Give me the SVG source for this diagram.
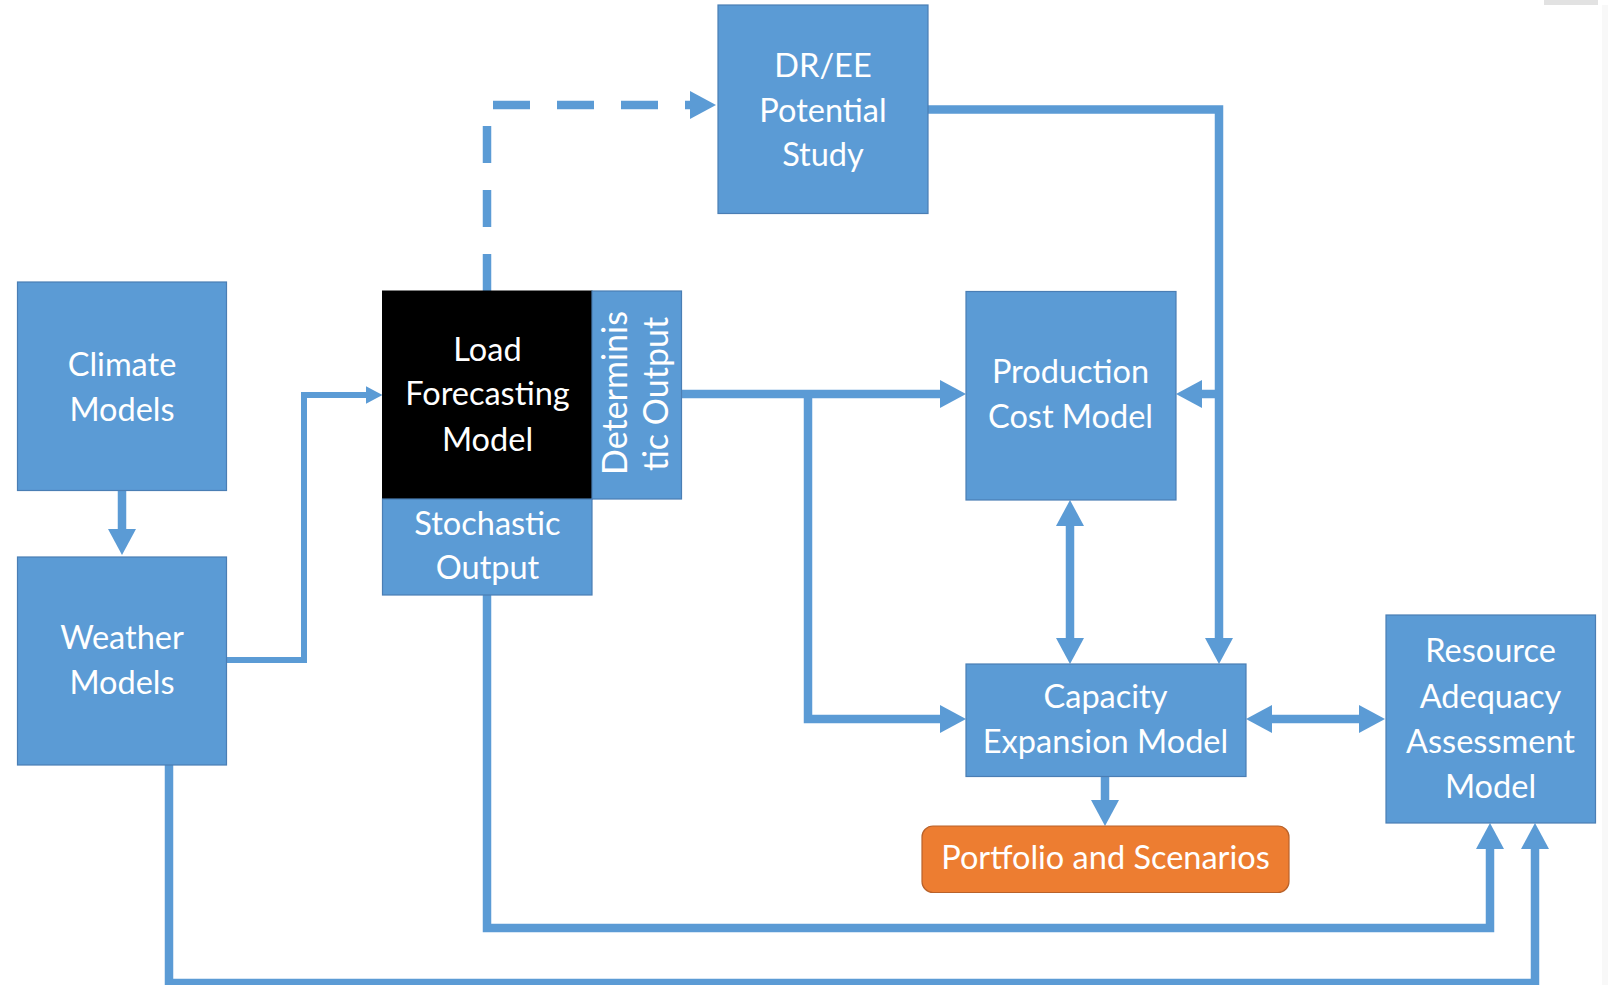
<svg xmlns="http://www.w3.org/2000/svg" width="1608" height="985" viewBox="0 0 1608 985">
  <style>
    .box { fill: #5B9BD5; stroke: #4A7EB4; stroke-width: 1.2; }
    .black { fill: #000000; stroke: #000000; stroke-width: 1; }
    .orange { fill: #ED7D31; stroke: #B9622A; stroke-width: 1.2; }
    .t { font-family: Lato, "Liberation Sans", sans-serif; font-size: 32.5px; fill: #FFFFFF; text-anchor: middle; }
    .rot { font-size: 34px; }
    .c { fill: none; stroke: #5B9BD5; stroke-width: 8.5; stroke-linejoin: miter; }
    .thin { fill: none; stroke: #5B9BD5; stroke-width: 6; }
    .dash { stroke-dasharray: 37 27; }
  </style>
  <defs>
    <marker id="ah" viewBox="0 0 26 28" refX="3" refY="14" markerWidth="26" markerHeight="28" markerUnits="userSpaceOnUse" orient="auto-start-reverse">
      <path d="M0,0 L26,14 L0,28 Z" fill="#5B9BD5"/>
    </marker>
    <marker id="ahs" viewBox="0 0 17 18" refX="2" refY="9" markerWidth="17" markerHeight="18" markerUnits="userSpaceOnUse" orient="auto">
      <path d="M0,0 L17,9 L0,18 Z" fill="#5B9BD5"/>
    </marker>
  </defs>
  <rect x="0" y="0" width="1608" height="985" fill="#FFFFFF"/>
  <rect x="1544" y="0" width="54" height="5" fill="#E2E2E2"/>
  <rect x="1602" y="5" width="6" height="980" fill="#F8F8F8"/>

  <g id="connectors">
    <path class="c" d="M122,490 V532" marker-end="url(#ah)"/>
    <path class="thin" d="M227,660 H304 V395 H367.5" marker-end="url(#ahs)"/>
    <path class="c dash" d="M487,291 V105 H693" marker-end="url(#ah)"/>
    <path class="c" d="M681,394 H943" marker-end="url(#ah)"/>
    <path class="c" d="M808,394 V719 H943" marker-end="url(#ah)"/>
    <path class="c" d="M928,109.5 H1219 V641" marker-end="url(#ah)"/>
    <path class="c" d="M1219,394 H1199" marker-end="url(#ah)"/>
    <path class="c" d="M1070,523 V641" marker-start="url(#ah)" marker-end="url(#ah)"/>
    <path class="c" d="M1269,719 H1362" marker-start="url(#ah)" marker-end="url(#ah)"/>
    <path class="c" d="M1105,777 V803" marker-end="url(#ah)"/>
    <path class="c" d="M487,595 V928 H1490 V846" marker-end="url(#ah)"/>
    <path class="c" d="M169,765 V983 H1535 V846" marker-end="url(#ah)"/>
  </g>

  <g id="climate">
    <rect class="box" x="17.5" y="282" width="209" height="208.5"/>
    <text class="t" x="122" y="376">Climate</text>
    <text class="t" x="122" y="420.5">Models</text>
  </g>
  <g id="weather">
    <rect class="box" x="17.5" y="557" width="209" height="208"/>
    <text class="t" x="122" y="649">Weather</text>
    <text class="t" x="122" y="693.5">Models</text>
  </g>
  <g id="load-forecasting">
    <rect class="black" x="382.5" y="291" width="209.5" height="208"/>
    <text class="t" x="487.5" y="361">Load</text>
    <text class="t" x="487.5" y="405">Forecasting</text>
    <text class="t" x="487.5" y="450.5">Model</text>
  </g>
  <g id="deterministic-output">
    <rect class="box" x="592" y="291" width="89.5" height="208"/>
    <text class="t rot" transform="translate(627,393) rotate(-90)">Determinis</text>
    <text class="t rot" transform="translate(668,394) rotate(-90)">tic Output</text>
  </g>
  <g id="stochastic-output">
    <rect class="box" x="382.5" y="499" width="209.5" height="96"/>
    <text class="t" x="487.5" y="535">Stochastic</text>
    <text class="t" x="487.5" y="578.5">Output</text>
  </g>
  <g id="dree">
    <rect class="box" x="718" y="5" width="210" height="208.5"/>
    <text class="t" x="823" y="76.5">DR/EE</text>
    <text class="t" x="823" y="121.5">Potential</text>
    <text class="t" x="823" y="165.5">Study</text>
  </g>
  <g id="production-cost">
    <rect class="box" x="966" y="291.5" width="210" height="208.5"/>
    <text class="t" x="1070.5" y="382.5">Production</text>
    <text class="t" x="1070.5" y="427.5">Cost Model</text>
  </g>
  <g id="capacity-expansion">
    <rect class="box" x="966" y="664" width="280" height="112.5"/>
    <text class="t" x="1105.5" y="707.5">Capacity</text>
    <text class="t" x="1105.5" y="752.5">Expansion Model</text>
  </g>
  <g id="portfolio">
    <rect class="orange" x="922" y="826" width="367" height="66.5" rx="11" ry="11"/>
    <text class="t" x="1105.5" y="868.5">Portfolio and Scenarios</text>
  </g>
  <g id="resource-adequacy">
    <rect class="box" x="1386" y="615" width="209.5" height="208"/>
    <text class="t" x="1490.5" y="662">Resource</text>
    <text class="t" x="1490.5" y="707.5">Adequacy</text>
    <text class="t" x="1490.5" y="753">Assessment</text>
    <text class="t" x="1490.5" y="798">Model</text>
  </g>
</svg>
